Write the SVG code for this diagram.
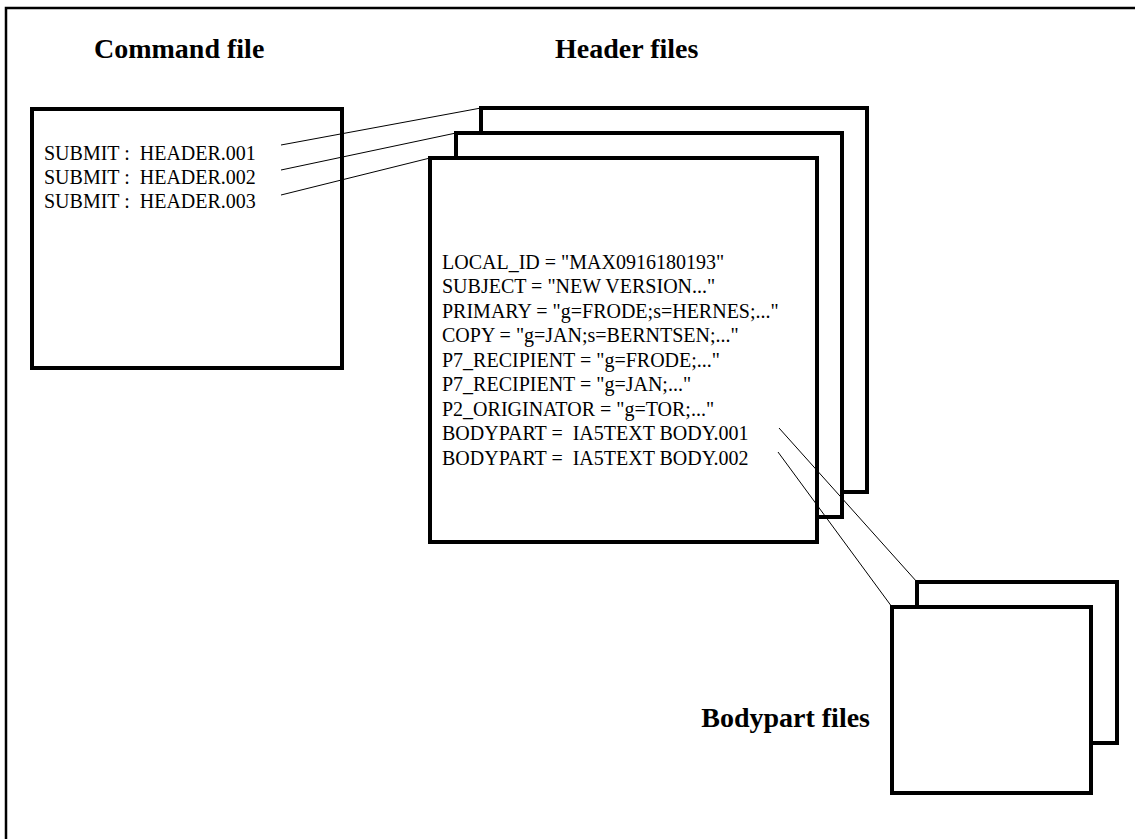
<svg xmlns="http://www.w3.org/2000/svg" width="1135" height="839" viewBox="0 0 1135 839">
  <style>
    .title { font-family: "Liberation Serif", "Times New Roman", serif; font-size: 28px; font-weight: bold; fill: #000; }
    .txt { font-family: "Liberation Serif", "Times New Roman", serif; font-size: 20px; fill: #000; }
    .box { fill: #fff; stroke: #000; stroke-width: 4; }
    .link { stroke: #000; stroke-width: 1; fill: none; }
  </style>
  <rect width="1135" height="839" fill="#fff"/>
  <!-- outer frame, open on the right and bottom -->
  <rect x="6" y="8" width="1200" height="900" fill="none" stroke="#000" stroke-width="2.5"/>

  <text class="title" x="94" y="58">Command file</text>
  <text class="title" x="555" y="58">Header files</text>
  <text class="title" x="870" y="727" text-anchor="end">Bodypart files</text>

  <g id="command-file">
    <rect class="box" x="32" y="109" width="310" height="259"/>
    <text class="txt" x="44" y="160" xml:space="preserve">SUBMIT :  HEADER.001</text>
    <text class="txt" x="44" y="184" xml:space="preserve">SUBMIT :  HEADER.002</text>
    <text class="txt" x="44" y="208" xml:space="preserve">SUBMIT :  HEADER.003</text>
  </g>

  <g id="header-files">
    <rect class="box" x="481" y="108" width="386" height="384"/>
    <rect class="box" x="456" y="133" width="386" height="384"/>
    <rect class="box" x="430" y="158" width="387" height="384"/>
    <text class="txt" x="442" y="269">LOCAL_ID = "MAX0916180193"</text>
    <text class="txt" x="442" y="293">SUBJECT = "NEW VERSION..."</text>
    <text class="txt" x="442" y="318">PRIMARY = "g=FRODE;s=HERNES;..."</text>
    <text class="txt" x="442" y="342">COPY = "g=JAN;s=BERNTSEN;..."</text>
    <text class="txt" x="442" y="367">P7_RECIPIENT = "g=FRODE;..."</text>
    <text class="txt" x="442" y="391">P7_RECIPIENT = "g=JAN;..."</text>
    <text class="txt" x="442" y="416">P2_ORIGINATOR = "g=TOR;..."</text>
    <text class="txt" x="442" y="440" xml:space="preserve">BODYPART =  IA5TEXT BODY.001</text>
    <text class="txt" x="442" y="465" xml:space="preserve">BODYPART =  IA5TEXT BODY.002</text>
  </g>

  <g id="bodypart-files">
    <rect class="box" x="917" y="582" width="200" height="161"/>
    <rect class="box" x="892" y="607" width="199" height="186"/>
  </g>

  <g id="connectors">
    <line class="link" x1="281" y1="145" x2="481" y2="108"/>
    <line class="link" x1="281" y1="170" x2="456" y2="133"/>
    <line class="link" x1="281" y1="195" x2="430" y2="158"/>
    <line class="link" x1="779" y1="428" x2="917" y2="582"/>
    <line class="link" x1="778" y1="452" x2="892" y2="607"/>
  </g>
</svg>
